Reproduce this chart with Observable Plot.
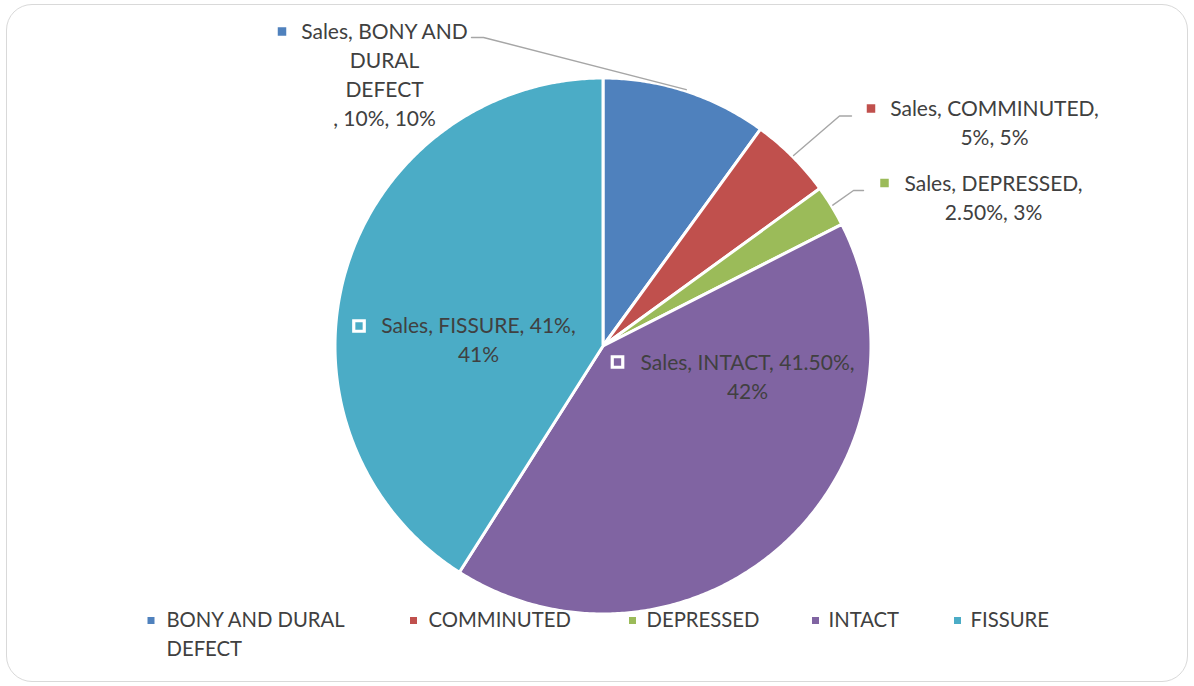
<!DOCTYPE html>
<html><head><meta charset="utf-8">
<script src="https://cdn.jsdelivr.net/npm/d3@7"></script>
<script src="https://cdn.jsdelivr.net/npm/@observablehq/plot@0.6"></script>
<style>
html,body{margin:0;padding:0;background:#fff;}
#wrap{position:relative;width:1194px;height:686px;overflow:hidden;}
#border{position:absolute;left:6px;top:4px;width:1180px;height:676px;border:1.5px solid #d9d9d9;border-radius:26px;pointer-events:none;}
svg{display:block;}
</style>
</head><body>
<div id="wrap"><div id="chart"></div><div id="border"></div></div>
<script>
// ---- data ----
const categories = ["BONY AND DURAL DEFECT", "COMMINUTED", "DEPRESSED", "INTACT", "FISSURE"];
const values = [10, 5, 2.5, 41.5, 41];
const colors = ["#4F81BD", "#C0504D", "#9BBB59", "#8064A2", "#4BACC6"];
const labelLines = [
  ["Sales, BONY AND", "DURAL", "DEFECT", ", 10%, 10%"],
  ["Sales, COMMINUTED,", "5%, 5%"],
  ["Sales, DEPRESSED,", "2.50%, 3%"],
  ["Sales, INTACT, 41.50%,", "42%"],
  ["Sales, FISSURE, 41%,", "41%"]
];
const legendLines = [["BONY AND DURAL", "DEFECT"], ["COMMINUTED"], ["DEPRESSED"], ["INTACT"], ["FISSURE"]];

// ---- layout ----
const W = 1194, H = 686, cx = 602.5, cy = 345.5, R = 268;
const FONT = "Lato, 'Open Sans', sans-serif";
const labelFont = 21, legendFont = 20.3, lineGap = 28.8;
const labelPos = [{x: 384, y: 32}, {x: 994, y: 109}, {x: 993, y: 184}, {x: 747, y: 363}, {x: 478, y: 326}];
const markerPos = [{x: 281.5, y: 31}, {x: 870.5, y: 108}, {x: 884, y: 182.5}, {x: 617, y: 361.5}, {x: 358.5, y: 325.5}];
const hollow = [false, false, false, true, true];
const leaderStart = [{x: 471, y: 37}, {x: 851, y: 115.5}, {x: 863, y: 190}];
const leaderElbow = [{x: 483, y: 37}, {x: 839, y: 115.5}, {x: 853, y: 190}];
const legendMarkX = [150.5, 413, 632, 815, 957];
const legendTextX = [166, 428, 646, 828, 970];
const legendY = 620;

// ---- geometry from data ----
const total = d3.sum(values);
const slices = [];
let acc = 0;
values.forEach((v, i) => {
  const a0 = acc / total * 2 * Math.PI;
  acc += v;
  const a1 = acc / total * 2 * Math.PI;
  slices.push({cat: categories[i], a0, a1, mid: (a0 + a1) / 2, i});
});
const arcPts = [];
slices.forEach(s => {
  arcPts.push({cat: s.cat, x: cx, y: cy});
  const n = Math.max(4, Math.ceil((s.a1 - s.a0) / (Math.PI / 360)));
  for (let k = 0; k <= n; k++) {
    const a = s.a0 + (s.a1 - s.a0) * k / n;
    arcPts.push({cat: s.cat, x: cx + R * Math.sin(a), y: cy - R * Math.cos(a)});
  }
  arcPts.push({cat: s.cat, x: cx, y: cy});
});

const leaders = [];
leaderStart.forEach((p, i) => {
  const s = slices[i];
  leaders.push({k: i, x: p.x, y: p.y});
  leaders.push({k: i, x: leaderElbow[i].x, y: leaderElbow[i].y});
  leaders.push({k: i, x: cx + (R + 1.5) * Math.sin(s.mid), y: cy - (R + 1.5) * Math.cos(s.mid)});
});

const labelText = [];
labelLines.forEach((lines, i) => lines.forEach((t, j) => labelText.push({t, x: labelPos[i].x, y: labelPos[i].y + j * lineGap})));
const markers = categories.map((c, i) => ({cat: c, x: markerPos[i].x, y: markerPos[i].y, hollow: hollow[i]}));
const legendMarks = categories.map((c, i) => ({cat: c, x: legendMarkX[i], y: legendY}));
const legendText = [];
legendLines.forEach((lines, i) => lines.forEach((t, j) => legendText.push({t, x: legendTextX[i], y: legendY + j * lineGap})));

const side = s => s / Math.sqrt(Math.PI);

const chart = Plot.plot({
  width: W, height: H,
  margin: 0, marginTop: 0, marginRight: 0, marginBottom: 0, marginLeft: 0,
  x: {domain: [0, W], range: [0, W], axis: null},
  y: {domain: [0, H], range: [0, H], axis: null},
  color: {domain: categories, range: colors},
  style: {fontFamily: FONT, background: "transparent"},
  marks: [
    Plot.line(arcPts, {x: "x", y: "y", z: "cat", fill: "cat", stroke: "white", strokeWidth: 3, strokeLinejoin: "round"}),
    Plot.line(leaders, {x: "x", y: "y", z: "k", stroke: "#a6a6a6", strokeWidth: 1.4}),
    Plot.dot(markers.filter(d => !d.hollow), {x: "x", y: "y", fill: "cat", symbol: "square", r: side(8.5), stroke: "none"}),
    Plot.dot(markers.filter(d => d.hollow), {x: "x", y: "y", fill: "cat", symbol: "square", r: side(10.5), stroke: "white", strokeWidth: 3.2}),
    Plot.text(labelText, {x: "x", y: "y", text: "t", fill: "#404040", fontSize: labelFont, fontFamily: FONT, textAnchor: "middle", lineAnchor: "middle"}),
    Plot.dot(legendMarks, {x: "x", y: "y", fill: "cat", symbol: "square", r: side(7), stroke: "none"}),
    Plot.text(legendText, {x: "x", y: "y", text: "t", fill: "#404040", fontSize: legendFont, fontFamily: FONT, textAnchor: "start", lineAnchor: "middle"})
  ]
});
document.getElementById("chart").appendChild(chart);
</script>
</body></html>
